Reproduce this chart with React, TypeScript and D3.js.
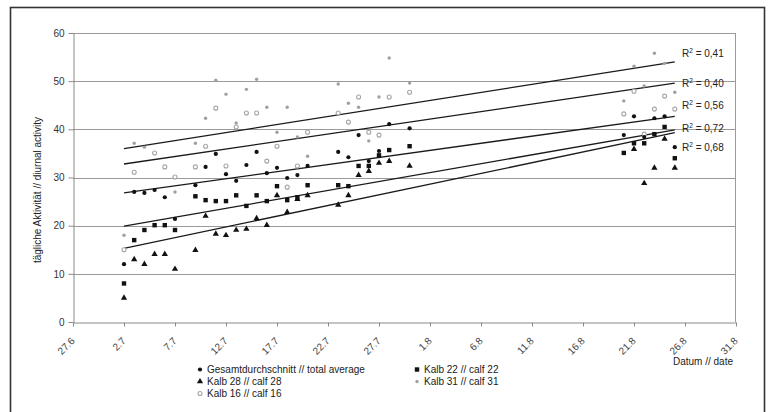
import React, { useEffect, useRef } from 'react';
import * as d3 from 'd3';

// measuring days (day.month)
const dates = [
    "2.7", "3.7", "4.7", "5.7", "6.7", "7.7", "9.7", "10.7", "11.7", "12.7", "13.7",
    "14.7", "15.7", "16.7", "17.7", "18.7", "19.7", "20.7", "23.7", "24.7", "25.7",
    "26.7", "27.7", "28.7", "30.7", "20.8", "21.8", "22.8", "23.8", "24.8", "25.8"
];

const gesamt = [12, 27.0, 26.8, 27.4, 25.9, 21.4, 28.4, 32.2, 34.9, 30.7, 29.3, 32.6, 35.3, 30.9, 32.0, 29.9, 30.5, 32.4, 35.3, 34.2, 38.8, 33.4, 35.5, 41.1, 40.2, 38.8, 42.7, 38.4, 42.3, 42.7, 36.3];
const kalb22 = [8, 17.0, 19.1, 20.1, 20.1, 19.1, 26.1, 25.3, 25.1, 25.1, 26.3, 24.1, 26.3, 25.1, 28.2, 25.3, 25.9, 28.4, 28.4, 28.2, 32.4, 32.4, 34.6, 35.7, 36.5, 35.1, 37.1, 37.1, 39.0, 40.5, 34.0];
const kalb28 = [5, 13.0, 12.0, 14.1, 14.1, 11.0, 14.9, 22.0, 18.3, 18.0, 19.1, 19.3, 21.5, 20.1, 26.3, 22.8, 25.5, 26.3, 24.3, 26.3, 30.5, 31.3, 33.0, 33.4, 32.4, null, 35.9, 28.8, 32.0, 38.0, 32.0];
const kalb31 = [18, 37.1, 36.3, null, null, 27.0, 37.1, 42.3, 50.2, 47.3, 41.3, 48.3, 50.4, 44.6, 39.4, 44.6, 38.4, 34.4, 49.4, 45.4, 44.6, 37.6, 46.7, 54.8, 49.6, 45.9, 53.1, 49.0, 55.8, 53.7, 47.7];
const kalb16 = [15, 31.1, null, 35.1, 32.2, 30.1, 32.2, 36.5, 44.4, 32.4, 40.5, 43.4, 43.4, 33.4, 36.5, 28.0, 32.4, 39.4, 43.4, 41.5, 46.7, 39.4, 38.8, 46.7, 47.7, 43.2, 47.9, 39.0, 44.2, 46.9, 44.2];

const seriesNames = [
    "Gesamtdurchschnitt // total average",
    "Kalb 22 // calf 22",
    "Kalb 28 // calf 28",
    "Kalb 31 // calf 31",
    "Kalb 16 // calf 16"
];

// linear trend lines (value at first and last trend day) and their R²
const trendFrom = "2.7";
const trendTo = "25.8";
const trendStart = [26.8, 19.9, 15.3, 36.0, 32.8];
const trendEnd = [42.7, 39.9, 39.3, 54.0, 49.6];
const r2Labels = ["0,56", "0,72", "0,68", "0,41", "0,40"];

const xTickLabels = ["27.6", "2.7", "7.7", "12.7", "17.7", "22.7", "27.7", "1.8", "6.8", "11.8", "16.8", "21.8", "26.8", "31.8"];
const yTicks = [0, 10, 20, 30, 40, 50, 60];

const FONT = '"Liberation Sans", Arial, sans-serif';

const parseDay = (s: string) => {
    const [d, m] = s.split('.').map(Number);
    return new Date(2000, m - 1, d);
};

const Chart: React.FC = () => {
    const ref = useRef<SVGSVGElement | null>(null);

    useEffect(() => {
        const svg = d3.select(ref.current);
        svg.selectAll('*').remove();

        const left = 73, right = 736, top = 33, bottom = 322;
        const x = d3.scaleTime()
            .domain([parseDay(xTickLabels[0]), parseDay(xTickLabels[xTickLabels.length - 1])])
            .range([left, right]);
        const y = d3.scaleLinear().domain([0, 60]).range([bottom, top]);

        // outer frame
        svg.append('rect')
            .attr('x', 10.5).attr('y', 7.5)
            .attr('width', 754).attr('height', 430)
            .attr('fill', 'none').attr('stroke', '#333').attr('stroke-width', 1.6);

        // gridlines
        svg.append('g').selectAll('line')
            .data(yTicks.filter(t => t > 0))
            .enter().append('line')
            .attr('x1', left).attr('x2', right - 1)
            .attr('y1', d => Math.round(y(d)) + 0.5).attr('y2', d => Math.round(y(d)) + 0.5)
            .attr('stroke', '#9a9a9a').attr('stroke-width', 1);

        // right border of plot area
        svg.append('line')
            .attr('x1', right - 0.5).attr('x2', right - 0.5)
            .attr('y1', y(60)).attr('y2', y(0))
            .attr('stroke', '#9a9a9a');

        const yAxis = svg.append('g')
            .attr('transform', `translate(${left + 0.5},0)`)
            .call(d3.axisLeft(y).tickValues(yTicks).tickSize(5).tickSizeOuter(0).tickPadding(4));
        const xAxis = svg.append('g')
            .attr('transform', `translate(0,${Math.round(bottom) + 0.5})`)
            .call(d3.axisBottom(x).tickValues(xTickLabels.map(parseDay))
                .tickFormat((_, i) => xTickLabels[i]).tickSize(4).tickSizeOuter(0));

        [yAxis, xAxis].forEach(a => {
            a.select('.domain').attr('stroke', '#8a8a8a');
            a.selectAll('.tick line').attr('stroke', '#8a8a8a');
            a.selectAll('text')
                .attr('fill', '#333')
                .style('font-family', FONT)
                .style('font-size', '10px');
        });
        xAxis.selectAll('text')
            .attr('x', 0).attr('y', 0).attr('dy', 0)
            .attr('text-anchor', 'end')
            .attr('fill', '#444')
            .attr('transform', 'translate(2,19) rotate(-45)');

        // y title
        svg.append('text')
            .attr('transform', 'translate(41,190) rotate(-90)')
            .attr('text-anchor', 'middle')
            .attr('fill', '#222')
            .style('font-family', FONT).style('font-size', '10px')
            .text('tägliche Aktivität // diurnal activity');

        svg.append('text')
            .attr('x', 733).attr('y', 365)
            .attr('text-anchor', 'end')
            .attr('fill', '#222')
            .style('font-family', FONT).style('font-size', '10px')
            .text('Datum // date');

        // trend lines
        const line = d3.line<[Date, number]>().x(d => x(d[0])).y(d => y(d[1]));
        const trends = svg.append('g');
        trendStart.forEach((s, i) => {
            trends.append('path')
                .attr('d', line([[parseDay(trendFrom), s], [parseDay(trendTo), trendEnd[i]]]))
                .attr('stroke', '#1a1a1a').attr('stroke-width', 1.3).attr('fill', 'none');
        });

        // R² labels stacked at the right, ordered as the lines end
        const labelY = [57, 87, 109, 132, 151];
        const order = d3.range(trendEnd.length).sort((a, b) => trendEnd[b] - trendEnd[a]);
        order.forEach((si, k) => {
            const t = svg.append('text')
                .attr('x', 682).attr('y', labelY[k])
                .attr('fill', '#222')
                .style('font-family', FONT).style('font-size', '10px');
            t.append('tspan').text('R');
            t.append('tspan').attr('dy', -4).style('font-size', '6.5px').text('2');
            t.append('tspan').attr('dy', 4).text(` = ${r2Labels[si]}`);
        });

        // markers
        const drawMarker = (g: d3.Selection<SVGGElement, unknown, null, undefined>, si: number, cx: number, cy: number) => {
            if (si === 0) {
                g.append('circle').attr('cx', cx).attr('cy', cy).attr('r', 2.1).attr('fill', '#111');
            } else if (si === 1) {
                g.append('rect').attr('x', cx - 2.2).attr('y', cy - 2.2).attr('width', 4.4).attr('height', 4.4).attr('fill', '#111');
            } else if (si === 2) {
                g.append('path').attr('transform', `translate(${cx},${cy})`)
                    .attr('d', d3.symbol(d3.symbolTriangle).size(17)()).attr('fill', '#111');
            } else if (si === 3) {
                g.append('circle').attr('cx', cx).attr('cy', cy).attr('r', 1.7).attr('fill', '#a0a0a0');
            } else {
                g.append('circle').attr('cx', cx).attr('cy', cy).attr('r', 2.0)
                    .attr('fill', '#fff').attr('stroke', '#a5a5a5').attr('stroke-width', 1.1);
            }
        };

        const allSeries = [gesamt, kalb22, kalb28, kalb31, kalb16];
        const pts = svg.append('g');
        [4, 3, 2, 1, 0].forEach(si => {
            allSeries[si].forEach((v, i) => {
                if (v === null) return;
                drawMarker(pts as any, si, x(parseDay(dates[i])), y(v));
            });
        });

        // legend
        const legPos = [[200, 373], [417, 373], [200, 385], [417, 385], [200, 397]];
        const leg = svg.append('g');
        seriesNames.forEach((name, si) => {
            const [lx, ly] = legPos[si];
            drawMarker(leg as any, si, lx, ly - 3.5);
            leg.append('text')
                .attr('x', lx + 7).attr('y', ly)
                .attr('fill', '#1a1a1a')
                .style('font-family', FONT).style('font-size', '10px')
                .text(name);
        });
    }, []);

    return <svg ref={ref} width={770} height={412} style={{ position: 'absolute', left: 0, top: 0, background: '#fff' }} />;
};

export default function App() {
    return <Chart />;
}
